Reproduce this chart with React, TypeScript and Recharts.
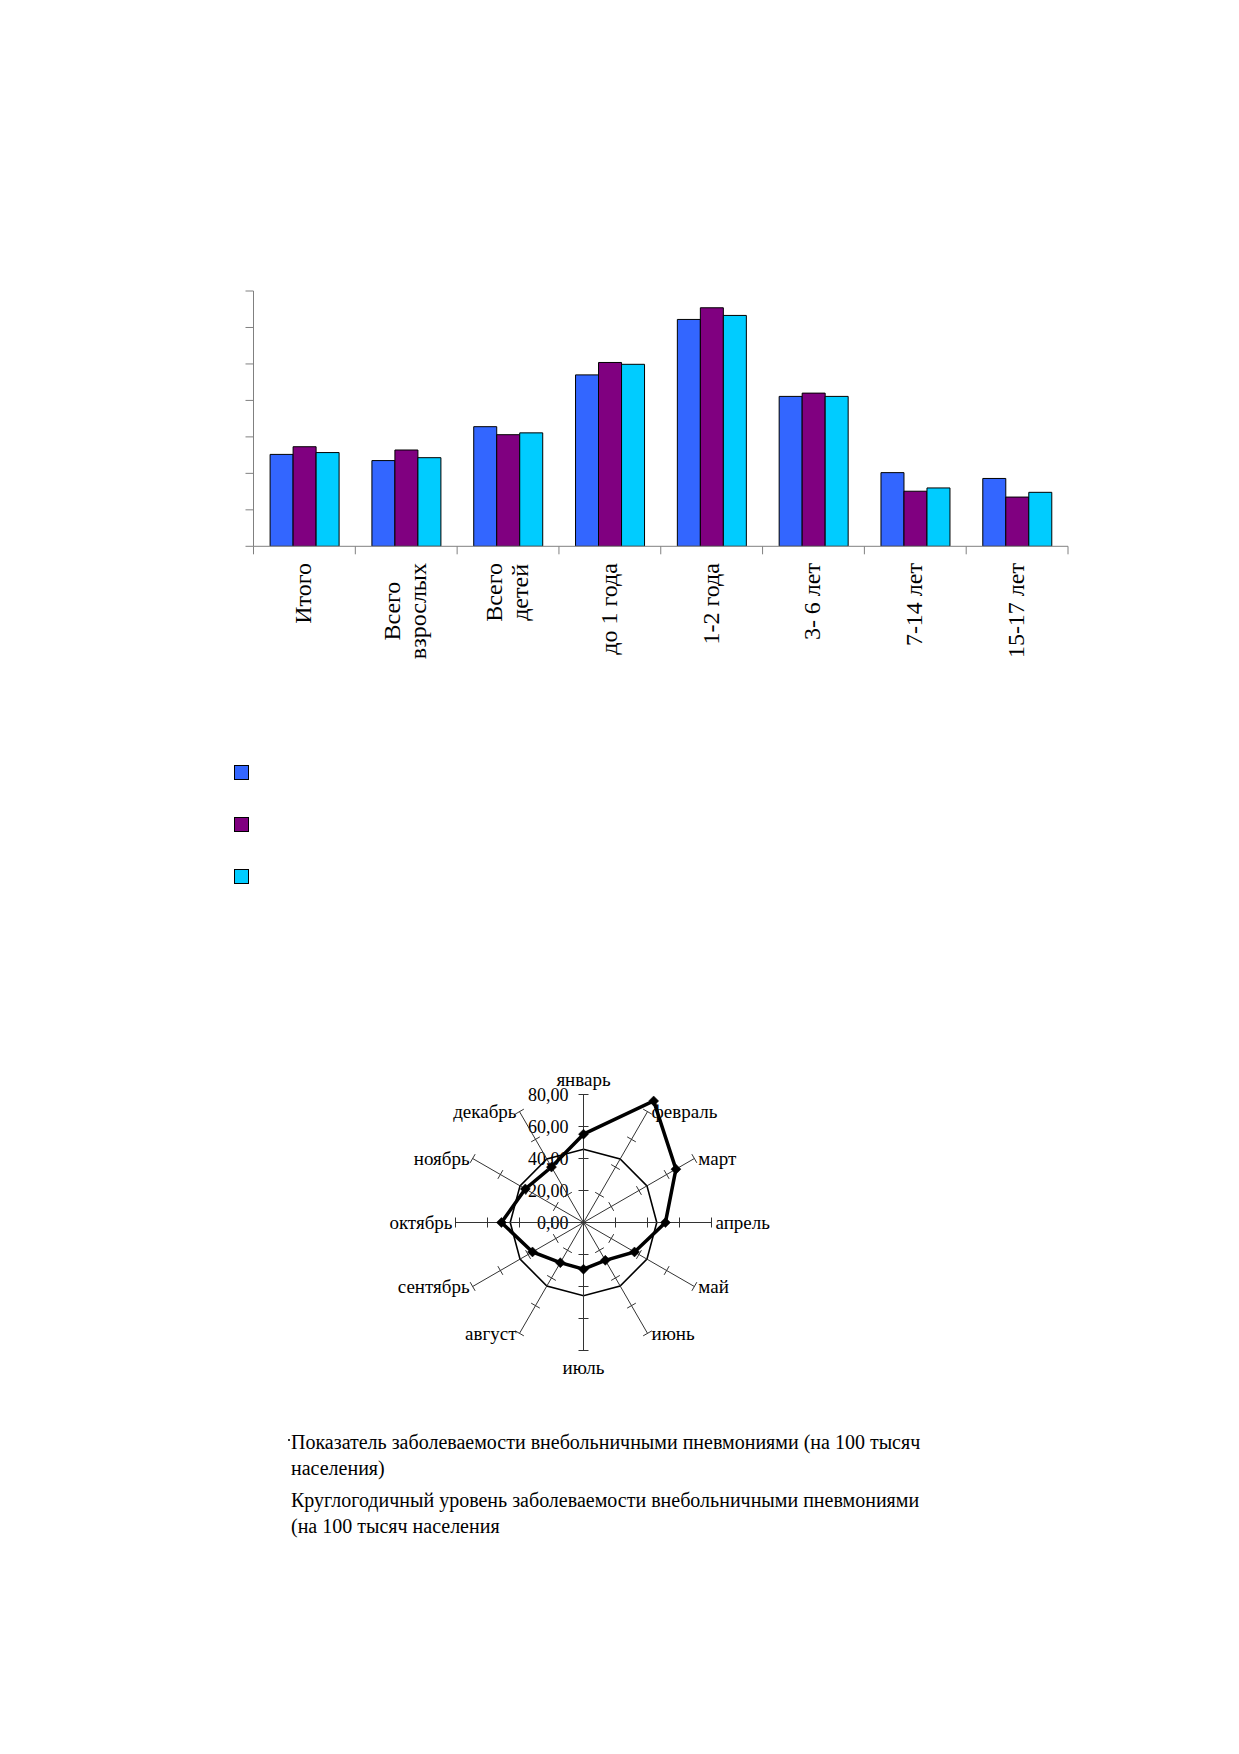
import React from 'react';
import {
  BarChart,
  Bar,
  XAxis,
  YAxis,
  Legend,
  RadarChart,
  Radar,
  PolarAngleAxis,
  PolarRadiusAxis,
} from 'recharts';

// ---------- Bar chart data ----------
const categories = [
  'Итого',
  'Всего\nвзрослых',
  'Всего\nдетей',
  'до 1 года',
  '1-2 года',
  '3- 6 лет',
  '7-14 лет',
  '15-17 лет',
];
const seriesBlue = [2.52, 2.35, 3.28, 4.7, 6.22, 4.11, 2.02, 1.86];
const seriesPurple = [2.73, 2.64, 3.06, 5.04, 6.54, 4.2, 1.51, 1.35];
const seriesCyan = [2.57, 2.43, 3.11, 4.99, 6.33, 4.11, 1.6, 1.48];
const yTicks = [0, 1, 2, 3, 4, 5, 6, 7];

// ---------- Radar chart data ----------
const months = [
  'январь',
  'февраль',
  'март',
  'апрель',
  'май',
  'июнь',
  'июль',
  'август',
  'сентябрь',
  'октябрь',
  'ноябрь',
  'декабрь',
];
const incidence = [55.2, 87.7, 66.7, 51.2, 36.8, 27.3, 29.2, 29.0, 36.8, 51.3, 42.0, 40.0];
const yearRound = [45.8, 45.8, 45.8, 45.8, 45.8, 45.8, 45.8, 45.8, 45.8, 45.8, 45.8, 45.8];
const radiusTicks = [0, 20, 40, 60, 80];
const incidenceName =
  'Показатель заболеваемости внебольничными пневмониями (на 100 тысяч\nнаселения)';
const yearRoundName =
  'Круглогодичный уровень заболеваемости внебольничными пневмониями\n(на 100 тысяч населения';

const barData = categories.map((c, i) => ({
  cat: c,
  s1: seriesBlue[i],
  s2: seriesPurple[i],
  s3: seriesCyan[i],
}));

const radarData = months.map((m, i) => ({
  month: m,
  incidence: incidence[i],
  yearRound: yearRound[i],
}));

// ---------- layout ----------
const FONT = "'Liberation Serif', 'Times New Roman', serif";
const GREY = '#808080';
const PAGE_W = 1239;
const BAR_H = 700;
const M_TOP = 291;
const M_LEFT = 243.5;
const Y_AXIS_W = 10;
const M_RIGHT = 171;
const X_AXIS_H = 100;
const M_BOTTOM = BAR_H - 546.3 - X_AXIS_H;
const AXIS_Y = BAR_H - M_BOTTOM - X_AXIS_H;
const PLOT_W = PAGE_W - M_LEFT - Y_AXIS_W - M_RIGHT;
const LABEL_TOP = 563;
const LABEL_FS = 24;
const LINE_STEP = 26.5;

let measureCtx: CanvasRenderingContext2D | null = null;
const measure = (t: string) => {
  if (!measureCtx) {
    const c = document.createElement('canvas');
    measureCtx = c.getContext('2d');
    if (measureCtx) measureCtx.font = `${LABEL_FS}px 'Liberation Serif'`;
  }
  return measureCtx ? measureCtx.measureText(t).width : t.length * 11;
};

const EmptyTick = () => <g />;

const CategoryTick = (props: any) => {
  const { x, payload, index } = props;
  const band = PLOT_W / categories.length;
  const off = typeof payload?.offset === 'number' && payload.offset > 0 ? payload.offset : band / 2;
  const lines = String(payload.value).split('\n');
  const maxLen = Math.max(...lines.map(measure));
  const yc = LABEL_TOP + maxLen / 2;
  return (
    <g>
      <line x1={x - off} x2={x - off} y1={AXIS_Y} y2={AXIS_Y + 8} stroke={GREY} strokeWidth={1} />
      {index === categories.length - 1 && (
        <line x1={x + off} x2={x + off} y1={AXIS_Y} y2={AXIS_Y + 8} stroke={GREY} strokeWidth={1} />
      )}
      {lines.map((l, i) => {
        const bx = x + 7 + (i - (lines.length - 1) / 2) * LINE_STEP;
        return (
          <text
            key={i}
            x={bx}
            y={yc}
            transform={`rotate(-90, ${bx}, ${yc})`}
            textAnchor="middle"
            fontSize={LABEL_FS}
            fontFamily={FONT}
            fill="#000"
          >
            {l}
          </text>
        );
      })}
    </g>
  );
};

const BarLegend = (props: any) => {
  const payload = props.payload || [];
  return (
    <div>
      {payload.map((p: any, i: number) => (
        <div
          key={i}
          style={{
            width: 15,
            height: 15,
            boxSizing: 'border-box',
            border: '1px solid #000',
            background: p.color,
            marginBottom: 37,
          }}
        />
      ))}
    </div>
  );
};

// ---------- radar layout ----------
const RADAR_TOP = 1000;
const CX = 583.5;
const CY = 222.5;
const R = 128;

const MonthTick = (props: any) => {
  const { payload } = props;
  const a = (payload.coordinate * Math.PI) / 180;
  const tx = CX + R * Math.cos(a);
  const ty = CY - R * Math.sin(a);
  let x = tx;
  let y = ty;
  let anchor: 'start' | 'middle' | 'end' = 'middle';
  const c = Math.cos(a);
  if (Math.abs(c) < 0.01) {
    y = Math.sin(a) > 0 ? ty - 15 : ty + 17;
  } else if (c > 0) {
    anchor = 'start';
    x = tx + 4;
  } else {
    anchor = 'end';
    x = tx - 3;
  }
  return (
    <text
      x={x}
      y={y}
      textAnchor={anchor}
      dominantBaseline="central"
      fontSize={19}
      fontFamily={FONT}
      fill="#000"
    >
      {payload.value}
    </text>
  );
};

const makeRadiusTick = (angleDeg: number, showLabel: boolean) => (props: any) => {
  const { x, y, payload } = props;
  const a = (angleDeg * Math.PI) / 180;
  const sx = Math.sin(a) * 5;
  const sy = Math.cos(a) * 5;
  const v = Number(payload.value);
  return (
    <g>
      {v !== 0 && (
        <line x1={x - sx} y1={y - sy} x2={x + sx} y2={y + sy} stroke="#333" strokeWidth={1} />
      )}
      {showLabel && (
        <text
          x={x - 15}
          y={y}
          textAnchor="end"
          dominantBaseline="central"
          fontSize={18}
          fontFamily={FONT}
          fill="#000"
        >
          {v.toFixed(2).replace('.', ',')}
        </text>
      )}
    </g>
  );
};

const DiamondDot = (props: any) => {
  const { cx, cy } = props;
  if (cx == null || cy == null) return <g />;
  const s = 5;
  return (
    <polygon
      points={`${cx},${cy - s} ${cx + s},${cy} ${cx},${cy + s} ${cx - s},${cy}`}
      fill="#000"
      stroke="#000"
      strokeWidth={0.5}
    />
  );
};

const RadarLegend = (props: any) => {
  const payload = props.payload || [];
  const order = [incidenceName, yearRoundName];
  const items = order.filter((n) => payload.some((p: any) => p.value === n));
  const list = items.length ? items : order;
  return (
    <div style={{ fontFamily: FONT, fontSize: 20, lineHeight: '26px', color: '#000', position: 'relative' }}>
      <span
        style={{
          position: 'absolute',
          left: -3,
          top: 10,
          width: 2,
          height: 2,
          background: '#333',
        }}
      />
      {list.map((n, i) => (
        <div key={i} style={{ marginBottom: 6 }}>
          {n.split('\n').map((line, j) => (
            <div key={j} style={{ whiteSpace: 'nowrap', margin: 0, padding: 0, textIndent: 0 }}>
              {line}
            </div>
          ))}
        </div>
      ))}
    </div>
  );
};

export default function App() {
  return (
    <div style={{ position: 'absolute', left: 0, top: 0, width: PAGE_W, height: 1754, background: '#fff' }}>
      <div style={{ position: 'absolute', left: 0, top: 0 }}>
        <BarChart
          width={PAGE_W}
          height={BAR_H}
          data={barData}
          margin={{ top: M_TOP, right: M_RIGHT, left: M_LEFT, bottom: M_BOTTOM }}
          barCategoryGap="16.3%"
          barGap={0}
        >
          <YAxis
            domain={[0, 7]}
            ticks={yTicks}
            interval={0}
            width={Y_AXIS_W}
            tick={EmptyTick}
            tickSize={8}
            axisLine={{ stroke: GREY }}
            tickLine={{ stroke: GREY }}
            allowDataOverflow
          />
          <XAxis
            dataKey="cat"
            height={X_AXIS_H}
            interval={0}
            axisLine={{ stroke: GREY }}
            tickLine={false}
            tick={CategoryTick}
          />
          <Bar dataKey="s1" name="Ряд 1" fill="#3366FF" stroke="#000" strokeWidth={1} isAnimationActive={false} />
          <Bar dataKey="s2" name="Ряд 2" fill="#800080" stroke="#000" strokeWidth={1} isAnimationActive={false} />
          <Bar dataKey="s3" name="Ряд 3" fill="#00CCFF" stroke="#000" strokeWidth={1} isAnimationActive={false} />
          <Legend
            layout="vertical"
            align="center"
            verticalAlign="middle"
            wrapperStyle={{ position: 'absolute', left: 234, top: 765, width: 20, height: 140 }}
            content={BarLegend}
          />
        </BarChart>
      </div>
      <div style={{ position: 'absolute', left: 0, top: RADAR_TOP }}>
        <RadarChart
          width={PAGE_W}
          height={600}
          data={radarData}
          cx={CX}
          cy={CY}
          outerRadius={R}
          startAngle={90}
          endAngle={-270}
          margin={{ top: 0, right: 0, bottom: 0, left: 0 }}
        >
          <PolarAngleAxis dataKey="month" axisLine={false} tickLine={false} tick={MonthTick} />
          {months.map((m, i) => (
            <PolarRadiusAxis
              key={m}
              radiusAxisId={i}
              angle={90 - 30 * i}
              type="number"
              domain={[0, 80]}
              ticks={radiusTicks as any}
              tickCount={5}
              allowDataOverflow
              axisLine={{ stroke: '#333', strokeWidth: 1 }}
              tick={makeRadiusTick(90 - 30 * i, i === 0)}
            />
          ))}
          <Radar
            radiusAxisId={0}
            name={yearRoundName}
            dataKey="yearRound"
            stroke="#000"
            strokeWidth={1.6}
            fill="none"
            fillOpacity={0}
            dot={false}
            isAnimationActive={false}
          />
          <Radar
            radiusAxisId={0}
            name={incidenceName}
            dataKey="incidence"
            stroke="#000"
            strokeWidth={3.5}
            fill="none"
            fillOpacity={0}
            dot={DiamondDot}
            isAnimationActive={false}
          />
          <Legend
            layout="vertical"
            align="center"
            verticalAlign="middle"
            wrapperStyle={{ position: 'absolute', left: 291, top: 429, width: 720, textAlign: 'left' }}
            content={RadarLegend}
          />
        </RadarChart>
      </div>
    </div>
  );
}
